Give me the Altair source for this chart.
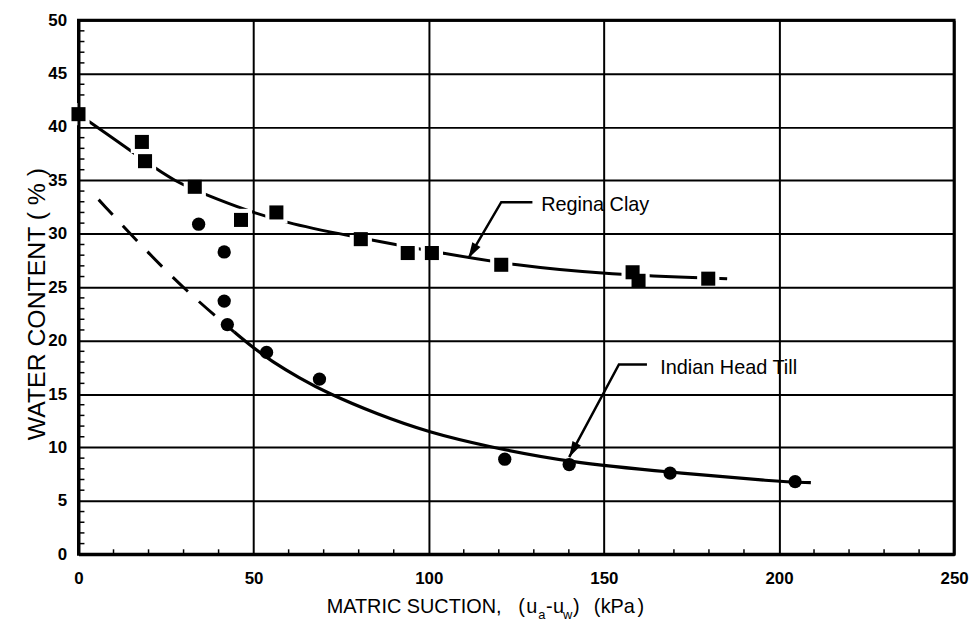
import altair as alt
import pandas as pd

# ---------------- data ----------------
# Regina Clay measured points (squares)
rc_x = [0, 18.1, 19.0, 33.2, 46.4, 56.5, 80.6, 94.0, 100.9, 120.7, 158.2, 159.9, 179.8]
rc_y = [41.2, 38.6, 36.8, 34.4, 31.3, 32.0, 29.5, 28.2, 28.2, 27.1, 26.4, 25.6, 25.8]
# Regina Clay fitted curve
rc_curve_x = [0, 8.8, 19.0, 27.5, 36.1, 47.9, 60.0, 80.6, 100, 125.3, 151, 185.2]
rc_curve_y = [41.2, 39.2, 36.8, 34.9, 33.7, 32.2, 30.95, 29.6, 28.4, 27.0, 26.2, 25.8]

# Indian Head Till measured points (circles)
iht_x = [34.3, 41.6, 41.6, 42.5, 53.7, 68.8, 121.7, 140.1, 168.9, 204.6]
iht_y = [30.9, 28.3, 23.7, 21.5, 18.9, 16.4, 8.9, 8.4, 7.6, 6.8]
# Indian Head Till fitted curve (dashed part, then solid part)
iht_dash_x = [5.75, 17.3, 30.5, 44.5]
iht_dash_y = [33.2, 29.1, 24.7, 20.8]
iht_solid_x = [44.5, 50, 55, 63, 71, 85.3, 100.1, 116.5, 140.1, 168.5, 199.6, 209.1]
iht_solid_y = [20.8, 19.3, 18.1, 16.5, 15.1, 13.1, 11.4, 10.1, 8.6, 7.7, 6.8, 6.7]

# annotations (data coordinates)
ann_label = ["Regina Clay", "Indian Head Till"]
ann_text_x = [132.1, 166.1]
ann_text_y = [32.65, 17.46]
leader_x = [[129.6, 120.7, 111.3], [162.3, 154.3, 140.1]]
leader_y = [[32.96, 32.96, 27.7], [17.77, 17.77, 9.09]]
arrow_angle = [210.5, 208.2]

x_ticks = [0, 50, 100, 150, 200, 250]
y_ticks = [0, 5, 10, 15, 20, 25, 30, 35, 40, 45, 50]
x_minor = [v for v in range(10, 250, 10) if v % 50]
y_minor = [v for v in range(1, 50) if v % 5]

# ---------------- frames ----------------
rc_pts = pd.DataFrame({"x": rc_x, "y": rc_y})
rc_curve = pd.DataFrame({"x": rc_curve_x, "y": rc_curve_y})
iht_pts = pd.DataFrame({"x": iht_x, "y": iht_y})
iht_dash = pd.DataFrame({"x": iht_dash_x, "y": iht_dash_y})
iht_solid = pd.DataFrame({"x": iht_solid_x, "y": iht_solid_y})
ann_df = pd.DataFrame({"x": ann_text_x, "y": ann_text_y, "label": ann_label})
lead_rows = []
for i, lab in enumerate(ann_label):
    for j, (a, b) in enumerate(zip(leader_x[i], leader_y[i])):
        lead_rows.append({"x": a, "y": b, "s": lab, "o": j})
lead_df = pd.DataFrame(lead_rows)
tip_df = pd.DataFrame({"x": [lx[-1] for lx in leader_x], "y": [ly[-1] for ly in leader_y],
                       "angle": arrow_angle})
xm_df = pd.DataFrame({"x": x_minor})
ym_df = pd.DataFrame({"y": y_minor})

FONT = "Liberation Sans"
W, H = 882, 538

xscale = alt.Scale(domain=[0, 250], nice=False, zero=False)
yscale = alt.Scale(domain=[0, 50], nice=False, zero=False)
xaxis = alt.Axis(values=x_ticks, grid=True, gridColor="black", gridWidth=2, gridOpacity=1,
                 ticks=False, labelPadding=16, labelFont=FONT, labelFontSize=17,
                 labelFontWeight="bold", labelColor="black", domainColor="black",
                 domainWidth=3, title=None, zindex=1, labelFlush=False)
yaxis = alt.Axis(values=y_ticks, grid=True, gridColor="black", gridWidth=2, gridOpacity=1,
                 ticks=False, labelPadding=12, labelFont=FONT, labelFontSize=17,
                 labelFontWeight="bold", labelColor="black", domainColor="black",
                 domainWidth=3, title=None, zindex=1, labelFlush=False)


def X(field="x"):
    return alt.X(f"{field}:Q", scale=xscale, axis=xaxis)


def Y(field="y"):
    return alt.Y(f"{field}:Q", scale=yscale, axis=yaxis)


layers = []

# minor ticks (inward)
layers.append(alt.Chart(ym_df).mark_rule(color="black", strokeWidth=1.5).encode(
    y=Y(), x=alt.value(0), x2=alt.value(6)))
layers.append(alt.Chart(xm_df).mark_rule(color="black", strokeWidth=1.5).encode(
    x=X(), y=alt.value(H), y2=alt.value(H - 5)))

# Regina Clay curve, with white halos around markers to break the line
layers.append(alt.Chart(rc_curve).mark_line(color="black", strokeWidth=3,
                                            interpolate="basis").encode(x=X(), y=Y()))
layers.append(alt.Chart(rc_pts).mark_point(shape="square", filled=True, size=500,
                                           color="white", opacity=1).encode(x=X(), y=Y()))
layers.append(alt.Chart(rc_pts).mark_point(shape="square", filled=True, size=200,
                                           color="black", opacity=1).encode(x=X(), y=Y()))

# Indian Head Till curve
layers.append(alt.Chart(iht_dash).mark_line(color="black", strokeWidth=3,
                                            strokeDash=[21, 15],
                                            interpolate="basis").encode(x=X(), y=Y()))
layers.append(alt.Chart(iht_solid).mark_line(color="black", strokeWidth=3.2,
                                             interpolate="basis").encode(x=X(), y=Y()))
layers.append(alt.Chart(iht_pts).mark_point(shape="circle", filled=True, size=180,
                                            color="black", opacity=1).encode(x=X(), y=Y()))

# leaders and arrowheads
layers.append(alt.Chart(lead_df).mark_line(color="black", strokeWidth=2.5).encode(
    x=X(), y=Y(), detail="s:N", order="o:Q"))
layers.append(alt.Chart(tip_df).mark_point(shape="M0,0 L-0.6,2 L0.6,2 Z", filled=True,
                                           size=256, color="black", opacity=1).encode(
    x=X(), y=Y(), angle=alt.Angle("angle:Q", scale=None)))
layers.append(alt.Chart(ann_df).mark_text(font=FONT, fontSize=20, align="left",
                                          baseline="middle", color="black").encode(
    x=X(), y=Y(), text="label:N"))

# axis titles as text (x title has subscripts)
one = pd.DataFrame({"a": [0]})


def txt(s, px, py, size=20, angle=0, align="left", baseline="alphabetic"):
    kw = dict(font=FONT, fontSize=size, align=align, baseline=baseline, color="black")
    if angle:
        kw["angle"] = angle
    return alt.Chart(one).mark_text(**kw).encode(
        x=alt.value(px), y=alt.value(py), text=alt.value(s))


OX, OY = 79, 18  # page position of plot origin
base = 615 - OY
sub = 621 - OY
layers += [
    txt("MATRIC SUCTION,", 329 - OX, base),
    txt("(", 522 - OX, base),
    txt("u", 530 - OX, base),
    txt("a", 542 - OX, sub, size=13),
    txt("-", 550 - OX, base),
    txt("u", 557 - OX, base),
    txt("w", 567 - OX, sub, size=13),
    txt(")", 577 - OX, base),
    txt("(", 598 - OX, base),
    txt("kPa", 605 - OX, base),
    txt(")", 642 - OX, base),
    txt("WATER CONTENT ( % )", 37 - OX, 304 - OY, size=25, angle=270,
        align="center", baseline="middle"),
]

chart = alt.layer(*layers).properties(
    width=W, height=H,
    autosize=alt.AutoSizeParams(type="none"),
    padding={"left": 71, "top": 10, "right": 17, "bottom": 70},
    background="white",
).configure_view(stroke="black", strokeWidth=3)

chart.save("out.html", embed_options={"renderer": "svg", "actions": False})
